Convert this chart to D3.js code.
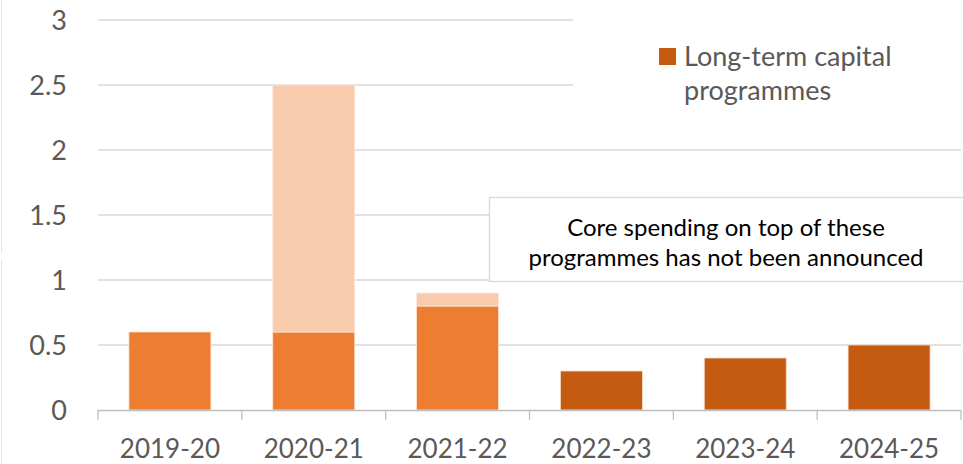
<!DOCTYPE html>
<html><head><meta charset="utf-8">
<script src="https://cdn.jsdelivr.net/npm/d3@7"></script>
<style>body{margin:0;background:#fff;}svg{display:block;}</style>
</head><body>
<script>
const categories = ["2019-20","2020-21","2021-22","2022-23","2023-24","2024-25"];
const coreValues = [0.6, 0.6, 0.8, 0, 0, 0];
const extraValues = [0, 1.9, 0.1, 0, 0, 0];
const longTermValues = [0, 0, 0, 0.3, 0.4, 0.5];
const yTicks = [0, 0.5, 1, 1.5, 2, 2.5, 3];
const legendLabel = ["Long-term capital", "programmes"];
const noteLines = ["Core spending on top of these", "programmes has not been announced"];

const W = 963, H = 464;
const svg = d3.select("body").append("svg").attr("width", W).attr("height", H);
const font = "Lato, 'Open Sans', sans-serif";

const x = d3.scaleBand().domain(categories).range([98, 961]).paddingInner(0.43).paddingOuter(0.215);
const y = d3.scaleLinear().domain([0, 3]).range([410, 20]);

// faint left border
svg.append("line").attr("x1",1.5).attr("x2",1.5).attr("y1",0).attr("y2",253).attr("stroke","#e3e3e3");
svg.append("line").attr("x1",1.5).attr("x2",1.5).attr("y1",260).attr("y2",H).attr("stroke","#e3e3e3");

// gridlines
svg.append("g").selectAll("line").data(yTicks.filter(d => d > 0)).join("line")
  .attr("x1", 98).attr("x2", 961)
  .attr("y1", d => y(d)).attr("y2", d => y(d))
  .attr("stroke", "#d9d9d9").attr("stroke-width", 1.3);

// legend background covering gridlines
svg.append("rect").attr("x", 573).attr("y", 0).attr("width", W - 573).attr("height", 140).attr("fill", "#fff");

// y tick labels
svg.append("g").selectAll("text").data(yTicks).join("text")
  .attr("x", 67).attr("y", d => y(d)).attr("dy", "0.36em")
  .attr("text-anchor", "end").attr("fill", "#595959")
  .style("font-family", font).style("font-size", "27px")
  .text(d => d);

// bars
const rows = categories.map((c, i) => ({c, core: coreValues[i], extra: extraValues[i], lt: longTermValues[i]}));
const g = svg.append("g");
g.selectAll(".core").data(rows.filter(d => d.core > 0)).join("rect")
  .attr("x", d => x(d.c)).attr("width", x.bandwidth())
  .attr("y", d => y(d.core)).attr("height", d => y(0) - y(d.core))
  .attr("fill", "#ED7D31").attr("stroke", "#fbe3d3").attr("stroke-width", 0.8);
g.selectAll(".extra").data(rows.filter(d => d.extra > 0)).join("rect")
  .attr("x", d => x(d.c)).attr("width", x.bandwidth())
  .attr("y", d => y(d.core + d.extra)).attr("height", d => y(d.core) - y(d.core + d.extra))
  .attr("fill", "#F8CBAD").attr("stroke", "#fde9dc").attr("stroke-width", 0.8);
g.selectAll(".lt").data(rows.filter(d => d.lt > 0)).join("rect")
  .attr("x", d => x(d.c)).attr("width", x.bandwidth())
  .attr("y", d => y(d.lt)).attr("height", d => y(0) - y(d.lt))
  .attr("fill", "#C55A11").attr("stroke", "#f6dccb").attr("stroke-width", 0.8);

// x axis
const xa = svg.append("g");
xa.append("line").attr("x1", 98).attr("x2", 961).attr("y1", 410.5).attr("y2", 410.5).attr("stroke", "#bfbfbf").attr("stroke-width", 1.3);
const tickPos = categories.map(c => x(c) - x.step() * x.paddingInner() / 2).concat([961]);
xa.selectAll(".tk").data(tickPos).join("line")
  .attr("x1", d => d).attr("x2", d => d).attr("y1", 410).attr("y2", 420)
  .attr("stroke", "#bfbfbf").attr("stroke-width", 1.3);
xa.selectAll("text").data(categories).join("text")
  .attr("x", d => x(d) + x.bandwidth() / 2).attr("y", 458)
  .attr("text-anchor", "middle").attr("fill", "#595959")
  .style("font-family", font).style("font-size", "26px")
  .text(d => d);

// legend
svg.append("rect").attr("x", 659).attr("y", 48).attr("width", 17).attr("height", 17).attr("fill", "#C55A11");
svg.append("g").selectAll("text").data(legendLabel).join("text")
  .attr("x", 684).attr("y", (d, i) => 66 + i * 34)
  .attr("fill", "#595959").style("font-family", font).style("font-size", "27px")
  .text(d => d);

// annotation box
svg.append("rect").attr("x", 489.5).attr("y", 197.5).attr("width", 480).attr("height", 84)
  .attr("fill", "#fff").attr("stroke", "#d9d9d9").attr("stroke-width", 1.3);
svg.append("g").selectAll("text").data(noteLines).join("text")
  .attr("x", 726).attr("y", (d, i) => 236 + i * 30)
  .attr("text-anchor", "middle").attr("fill", "#000")
  .style("font-family", font).style("font-size", "24px")
  .text(d => d);
</script>
</body></html>
